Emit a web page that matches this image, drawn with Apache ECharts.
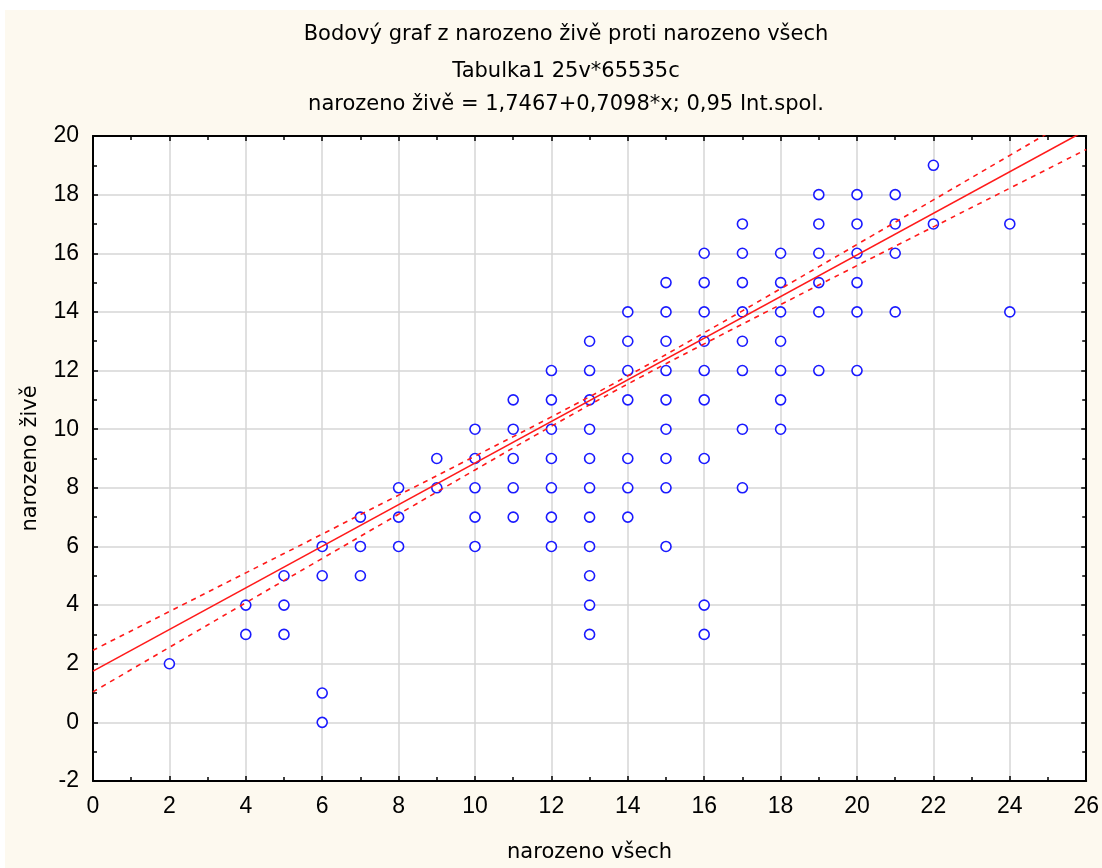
<!DOCTYPE html>
<html>
<head>
<meta charset="utf-8">
<script src="https://cdn.jsdelivr.net/npm/echarts@6/dist/echarts.min.js"></script>
<style>
html,body{margin:0;padding:0;background:#ffffff;width:1102px;height:868px;overflow:hidden;}
#chart{position:absolute;left:5px;top:10px;width:1097px;height:858px;}
</style>
</head>
<body>
<div id="chart"></div>
<script>
// ---- data ----
const titleLines = [
  'Bodový graf z narozeno živě proti narozeno všech',
  'Tabulka1 25v*65535c',
  'narozeno živě = 1,7467+0,7098*x; 0,95 Int.spol.'
];
const xName = 'narozeno všech';
const yName = 'narozeno živě';

// x values (narozeno všech) and the y values (narozeno živě) observed at each x
const groupX = [2, 4, 5, 6, 7, 8, 9, 10, 11, 12, 13, 14, 15, 16, 17, 18, 19, 20, 21, 22, 24];
const groupY = [
  [2],
  [4, 3],
  [5, 4, 3],
  [6, 5, 1, 0],
  [7, 6, 5],
  [8, 7, 6],
  [9, 8],
  [10, 9, 8, 7, 6],
  [11, 10, 9, 8, 7],
  [12, 11, 10, 9, 8, 7, 6],
  [13, 12, 11, 10, 9, 8, 7, 6, 5, 4, 3],
  [14, 13, 12, 11, 9, 8, 7],
  [15, 14, 13, 12, 11, 10, 9, 8, 6],
  [16, 15, 14, 13, 12, 11, 9, 4, 3],
  [17, 16, 15, 14, 13, 12, 10, 8],
  [16, 15, 14, 13, 12, 11, 10],
  [18, 17, 16, 15, 14, 12],
  [18, 17, 16, 15, 14, 12],
  [18, 17, 16, 14],
  [19, 17],
  [17, 14]
];

// regression (from the title)
const intercept = 1.7467;
const slope = 0.7098;
const fitX = [0, 26];

// 95% confidence band at these x positions
const bandX = [0, 2, 4, 6, 8, 10, 12, 14, 16, 18, 20, 22, 24, 26];
const bandUpper = [2.46, 3.78, 5.10, 6.42, 7.75, 9.08, 10.42, 11.82, 13.29, 14.79, 16.30, 17.82, 19.34, 20.86];
const bandLower = [1.04, 2.56, 4.08, 5.59, 7.10, 8.61, 10.10, 11.54, 12.91, 14.25, 15.58, 16.90, 18.22, 19.54];

// axis settings
const xMin = 0, xMax = 26, xStep = 2;
const yMin = -2, yMax = 20, yStep = 2;

// ---- build ----
const pts = [];
groupX.forEach((x, i) => groupY[i].forEach(y => pts.push([x, y])));
const fitLine = fitX.map(x => [x, intercept + slope * x]);
const upper = bandX.map((x, i) => [x, bandUpper[i]]);
const lower = bandX.map((x, i) => [x, bandLower[i]]);

const FONT = 'Liberation Sans, Arial, sans-serif';
const WIDE = 'DejaVu Sans, Verdana, sans-serif';
const gridColor = '#d6d6d6';

const chart = echarts.init(document.getElementById('chart'), null, {renderer: 'canvas'});

const baseTitle = {left: 556, textAlign: 'center', textStyle: {fontFamily: WIDE, fontSize: 21, fontWeight: 'normal', color: '#000'}};

chart.setOption({
  backgroundColor: '#fdf9ef',
  animation: false,
  title: [
    Object.assign({}, baseTitle, {text: titleLines[0], top: 9}),
    Object.assign({}, baseTitle, {text: titleLines[1], top: 46}),
    Object.assign({}, baseTitle, {text: titleLines[2], top: 79})
  ],
  grid: {left: 88, right: 14, top: 126, bottom: 85, show: true, backgroundColor: '#ffffff', borderWidth: 0},
  xAxis: [
    {
      type: 'value', min: xMin, max: xMax, interval: xStep, position: 'bottom',
      name: xName, nameLocation: 'middle', nameGap: 61,
      nameTextStyle: {fontFamily: WIDE, fontSize: 21, color: '#000'},
      axisLine: {show: true, onZero: false, lineStyle: {color: '#000', width: 2}},
      axisTick: {show: true, inside: true, length: 5, lineStyle: {color: '#000', width: 1.5}},
      minorTick: {show: true, splitNumber: 2, length: 4, lineStyle: {color: '#000', width: 1.5}},
      axisLabel: {fontFamily: FONT, fontSize: 23, color: '#000', margin: 14},
      splitLine: {show: true, lineStyle: {color: gridColor, width: 1.5}}
    },
    {
      type: 'value', min: xMin, max: xMax, interval: xStep, position: 'top',
      axisLine: {show: true, onZero: false, lineStyle: {color: '#000', width: 2}},
      axisTick: {show: true, inside: true, length: 5, lineStyle: {color: '#000', width: 1.5}},
      minorTick: {show: true, splitNumber: 2, length: 4, lineStyle: {color: '#000', width: 1.5}},
      axisLabel: {show: false},
      splitLine: {show: false}
    }
  ],
  yAxis: [
    {
      type: 'value', min: yMin, max: yMax, interval: yStep, position: 'left',
      name: yName, nameLocation: 'middle', nameGap: 52, nameRotate: 90,
      nameTextStyle: {fontFamily: WIDE, fontSize: 21, color: '#000'},
      axisLine: {show: true, onZero: false, lineStyle: {color: '#000', width: 2}},
      axisTick: {show: true, inside: true, length: 5, lineStyle: {color: '#000', width: 1.5}},
      minorTick: {show: true, splitNumber: 2, length: 4, lineStyle: {color: '#000', width: 1.5}},
      axisLabel: {fontFamily: FONT, fontSize: 23, color: '#000', margin: 14},
      splitLine: {show: true, lineStyle: {color: gridColor, width: 1.5}}
    },
    {
      type: 'value', min: yMin, max: yMax, interval: yStep, position: 'right',
      axisLine: {show: true, onZero: false, lineStyle: {color: '#000', width: 2}},
      axisTick: {show: true, inside: true, length: 5, lineStyle: {color: '#000', width: 1.5}},
      minorTick: {show: true, splitNumber: 2, length: 4, lineStyle: {color: '#000', width: 1.5}},
      axisLabel: {show: false},
      splitLine: {show: false}
    }
  ],
  series: [
    {
      type: 'scatter', data: pts, symbol: 'circle', symbolSize: 10,
      itemStyle: {color: '#ffffff', borderColor: '#1a1aff', borderWidth: 1.6, opacity: 1},
      z: 3
    },
    {
      type: 'line', data: fitLine, showSymbol: false, symbol: 'none', clip: true,
      lineStyle: {color: '#ff1a1a', width: 1.6}, z: 4
    },
    {
      type: 'line', data: upper, smooth: true, showSymbol: false, symbol: 'none', clip: true,
      lineStyle: {color: '#ff1a1a', width: 1.6, type: [5, 5]}, z: 4
    },
    {
      type: 'line', data: lower, smooth: true, showSymbol: false, symbol: 'none', clip: true,
      lineStyle: {color: '#ff1a1a', width: 1.6, type: [5, 5]}, z: 4
    }
  ]
});
</script>
</body>
</html>
